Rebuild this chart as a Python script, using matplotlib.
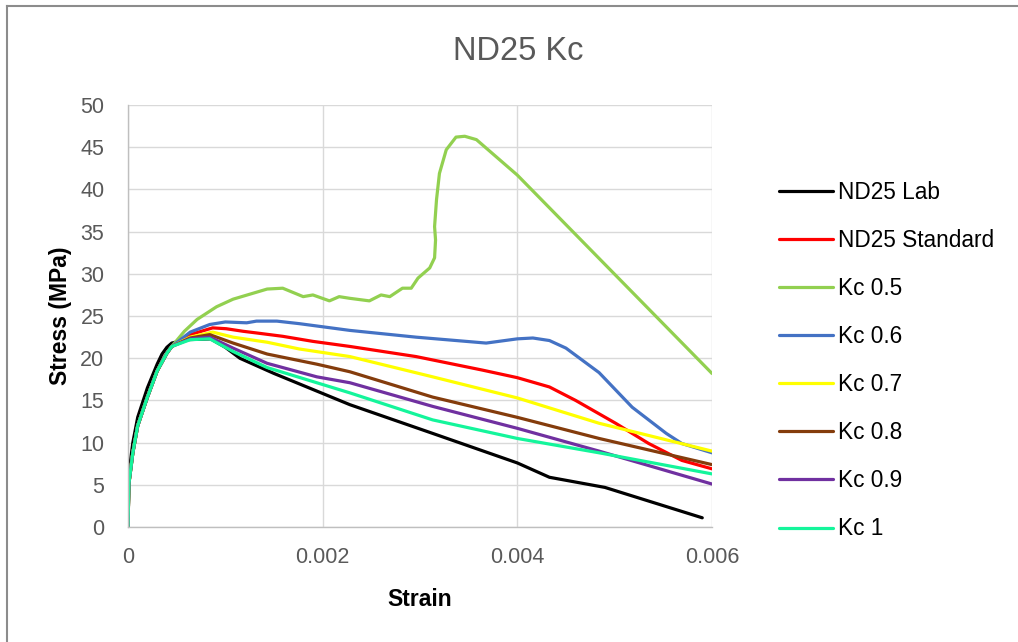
import matplotlib
matplotlib.use("Agg")
import matplotlib.pyplot as plt
from matplotlib.lines import Line2D

# ------------------------- Data -------------------------
# shared initial rise (Kc curves + standard)
rise_strain = [0, 0.00001, 0.00005, 0.0001, 0.0002, 0.0003, 0.0004, 0.00045]
rise_stress = [0, 5.2, 8.8, 12.0, 15.4, 18.5, 20.6, 21.4]

lab_strain = [0, 0.00001, 0.00005, 0.0001, 0.0002, 0.0003, 0.00035, 0.0004, 0.00045, 0.0006, 0.00085,
              0.001, 0.00115, 0.0015, 0.00228, 0.00313, 0.004, 0.00433, 0.0049, 0.0059]
lab_stress = [0, 6.4, 10.0, 13.0, 16.5, 19.3, 20.5, 21.3, 21.8, 22.2, 22.3,
              21.3, 20.0, 18.2, 14.5, 11.1, 7.6, 5.9, 4.7, 1.1]

std_strain = [0.00064, 0.00087, 0.00101, 0.00118, 0.00132, 0.00159, 0.0019, 0.00228, 0.00296,
              0.00364, 0.004, 0.00433, 0.0046, 0.00501, 0.00535, 0.00569, 0.006]
std_stress = [22.8, 23.6, 23.5, 23.2, 23.0, 22.6, 22.0, 21.4, 20.2,
              18.6, 17.7, 16.6, 15.0, 12.3, 9.9, 7.9, 6.9]

kc05_strain = [0.00058, 0.00071, 0.00091, 0.00108, 0.00143, 0.00159, 0.0018, 0.0019, 0.00207,
               0.00217, 0.00228, 0.00248, 0.0026, 0.00269, 0.00282, 0.00291, 0.00298, 0.0031,
               0.00315, 0.00316, 0.00315, 0.00317, 0.0032, 0.00327, 0.00337, 0.00346, 0.00358,
               0.004, 0.006]
kc05_stress = [23.2, 24.6, 26.1, 27.0, 28.2, 28.3, 27.3, 27.5, 26.8,
               27.3, 27.1, 26.8, 27.5, 27.3, 28.3, 28.3, 29.5, 30.7,
               31.9, 34.0, 35.6, 38.8, 41.9, 44.7, 46.2, 46.3, 45.9,
               41.7, 18.2]

kc06_strain = [0.00064, 0.00084, 0.001, 0.00122, 0.00132, 0.00153, 0.00176, 0.00228, 0.00296,
               0.00368, 0.004, 0.00416, 0.00433, 0.0045, 0.00484, 0.00518, 0.00553, 0.00569, 0.006]
kc06_stress = [23.1, 24.0, 24.3, 24.2, 24.4, 24.4, 24.1, 23.3, 22.5,
               21.8, 22.3, 22.4, 22.1, 21.2, 18.3, 14.2, 11.1, 9.9, 8.8]

kc07_strain = [0.00064, 0.00087, 0.00108, 0.00143, 0.00176, 0.00228, 0.00313, 0.004, 0.00484, 0.006]
kc07_stress = [22.5, 23.1, 22.5, 21.9, 21.1, 20.2, 17.8, 15.3, 12.3, 9.0]

kc08_strain = [0.00064, 0.00084, 0.00108, 0.00143, 0.00194, 0.00228, 0.00313, 0.004, 0.00484, 0.006]
kc08_stress = [22.4, 22.8, 21.8, 20.5, 19.3, 18.4, 15.4, 13.0, 10.5, 7.4]

kc09_strain = [0.00064, 0.00084, 0.00108, 0.00143, 0.00194, 0.00228, 0.00313, 0.004, 0.00484, 0.006]
kc09_stress = [22.3, 22.5, 21.2, 19.4, 17.8, 17.1, 14.3, 11.7, 9.0, 5.1]

kc1_strain = [0.00064, 0.00084, 0.00108, 0.00143, 0.00194, 0.00228, 0.00313, 0.004, 0.00484, 0.006]
kc1_stress = [22.2, 22.3, 20.8, 18.9, 17.1, 15.9, 12.7, 10.5, 8.8, 6.3]

labels = ['ND25 Lab', 'ND25 Standard', 'Kc 0.5', 'Kc 0.6', 'Kc 0.7', 'Kc 0.8', 'Kc 0.9', 'Kc 1']
colors = ['#000000', '#FF0000', '#92D050', '#4472C4', '#FFFF00', '#843C0C', '#7030A0', '#14F59B']

series = [
    (lab_strain, lab_stress),
    (rise_strain + std_strain, rise_stress + std_stress),
    (rise_strain + kc05_strain, rise_stress + kc05_stress),
    (rise_strain + kc06_strain, rise_stress + kc06_stress),
    (rise_strain + kc07_strain, rise_stress + kc07_stress),
    (rise_strain + kc08_strain, rise_stress + kc08_stress),
    (rise_strain + kc09_strain, rise_stress + kc09_stress),
    (rise_strain + kc1_strain, rise_stress + kc1_stress),
]

# ------------------------- Plot -------------------------
plt.rcParams['font.family'] = ['Liberation Sans', 'DejaVu Sans']

fig = plt.figure(figsize=(10.18, 6.42), dpi=100)
ax = fig.add_axes([0.1257, 0.179, 0.5737, 0.6574])

for (xs, ys), lab, col in zip(series, labels, colors):
    ax.plot(xs, ys, color=col, lw=2.3, label=lab, solid_joinstyle='round', solid_capstyle='round')

ax.set_xlim(0, 0.006)
ax.set_ylim(0, 50)
ax.set_xticks([0, 0.002, 0.004, 0.006])
ax.set_xticklabels(['0', '0.002', '0.004', '0.006'])
ax.set_yticks(range(0, 51, 5))

ax.grid(True, color='#D9D9D9', lw=1.0)
ax.set_axisbelow(True)
for s in ['top', 'right']:
    ax.spines[s].set_visible(False)
for s in ['left', 'bottom']:
    ax.spines[s].set_color('#BFBFBF')
    ax.spines[s].set_linewidth(1.0)
ax.tick_params(axis='y', length=0, labelsize=15.5, labelcolor='#595959', pad=17)
ax.tick_params(axis='x', length=0, labelsize=15.5, labelcolor='#595959', pad=14)

fig.text(0.509, 1 - 51 / 642, 'ND25 Kc', fontsize=23.5, color='#595959', ha='center', va='center')
ax.set_xlabel('Strain', fontsize=16.5, fontweight='bold', labelpad=15)
ax.set_ylabel('Stress (MPa)', fontsize=16.5, fontweight='bold', labelpad=6)

ax.legend(loc='center left', bbox_to_anchor=(779 / 1018, 1 - 360.5 / 642), bbox_transform=fig.transFigure,
          frameon=False, fontsize=16.3, handlelength=2.4, handletextpad=0.22, labelspacing=1.11,
          borderpad=0, borderaxespad=0)

# chart area border (left and top edges)
fig.add_artist(Line2D([7 / 1018, 7 / 1018], [0, 1 - 6 / 642], transform=fig.transFigure, color='#8C8C8C', lw=1.5))
fig.add_artist(Line2D([7 / 1018, 1], [1 - 6 / 642, 1 - 6 / 642], transform=fig.transFigure, color='#8C8C8C', lw=1.5))

fig.savefig('out.png', dpi=100)
